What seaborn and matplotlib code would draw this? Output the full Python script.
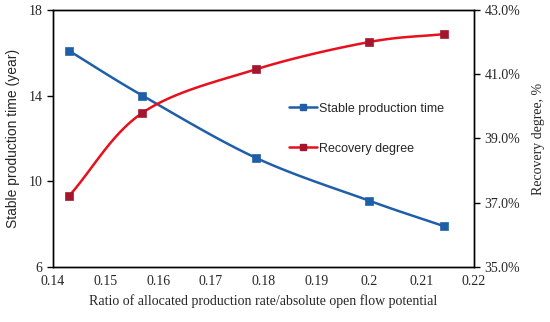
import numpy as np
import pandas as pd
import matplotlib
matplotlib.use("Agg")
import matplotlib.pyplot as plt
from matplotlib.lines import Line2D
import seaborn as sns

ratio = [0.143, 0.157, 0.1785, 0.200, 0.2143]
stable_time = [16.1, 14.0, 11.1, 9.1, 7.9]
recovery = [37.2, 39.8, 41.15, 42.0, 42.25]
x_ticks = [0.14, 0.15, 0.16, 0.17, 0.18, 0.19, 0.20, 0.21, 0.22]
x_tick_labels = ["0.14", "0.15", "0.16", "0.17", "0.18", "0.19", "0.2", "0.21", "0.22"]
left_ticks = [6, 10, 14, 18]
right_ticks = [35.0, 37.0, 39.0, 41.0, 43.0]

def smooth(xs, ys, n=30):
    # Catmull-Rom style smoothing (like Excel's smoothed line)
    xs = np.asarray(xs, float); ys = np.asarray(ys, float)
    px = np.concatenate([[2*xs[0]-xs[1]], xs, [2*xs[-1]-xs[-2]]])
    py = np.concatenate([[2*ys[0]-ys[1]], ys, [2*ys[-1]-ys[-2]]])
    ox, oy = [], []
    t = np.linspace(0, 1, n)
    for i in range(1, len(px)-2):
        p0, p1, p2, p3 = [np.array([px[j], py[j]]) for j in (i-1, i, i+1, i+2)]
        m1 = (p2 - p0) / 6.0
        m2 = (p3 - p1) / 6.0
        b0, b1, b2, b3 = p1, p1 + m1, p2 - m2, p2
        pts = ((1-t)**3)[:, None]*b0 + (3*(1-t)**2*t)[:, None]*b1 + (3*(1-t)*t**2)[:, None]*b2 + (t**3)[:, None]*b3
        ox.extend(pts[:, 0]); oy.extend(pts[:, 1])
    return np.array(ox), np.array(oy)

sns.set_style("white")
plt.rcParams['font.family'] = ['Liberation Serif', 'DejaVu Serif']

fig = plt.figure(figsize=(5.5, 3.22), dpi=100)
ax = fig.add_axes([0.0964, 0.171, 0.862 - 0.0964, 0.969 - 0.171])
ax2 = ax.twinx()

blue = "#1F5FA8"
red_line = "#E8101C"
red_mark = "#A3162E"

bx, by = smooth(ratio, stable_time)
sns.lineplot(x=bx, y=by, ax=ax, color=blue, lw=1.8, sort=False, estimator=None)
sns.scatterplot(x=ratio, y=stable_time, ax=ax, color=blue, marker="s", s=36, edgecolor=blue, zorder=5)

rx, ry = smooth(ratio, recovery)
sns.lineplot(x=rx, y=ry, ax=ax2, color=red_line, lw=1.8, sort=False, estimator=None)
sns.scatterplot(x=ratio, y=recovery, ax=ax2, color=red_mark, marker="s", s=36, edgecolor=red_mark, zorder=5)

ax.set_xlim(0.14, 0.22)
ax.set_ylim(6, 18)
ax2.set_ylim(35, 43)
ax.set_xticks(x_ticks)
ax.set_xticklabels(x_tick_labels, fontsize=10)
ax.set_yticks(left_ticks)
ax.set_yticklabels([str(v) for v in left_ticks], fontsize=10)
ax2.set_yticks(right_ticks)
ax2.set_yticklabels([f"{v:.1f}%" for v in right_ticks], fontsize=10)

ax.tick_params(axis='x', direction='in', length=4, width=1, color='black', pad=6)
ax.tick_params(axis='y', direction='out', length=4, width=1, color='black', left=True)
ax2.tick_params(axis='y', direction='out', length=4, width=1, color='black', right=True)

for a in (ax, ax2):
    for s in a.spines.values():
        s.set_color('black'); s.set_linewidth(1.0)

ax.set_xlabel("Ratio of allocated production rate/absolute open flow potential", fontsize=10, labelpad=4)
ax.set_ylabel("Stable production time (year)", fontsize=10, family=['Liberation Sans', 'DejaVu Sans'], labelpad=6)
ax2.set_ylabel("Recovery degree, %", fontsize=10, labelpad=8)

handles = [
    Line2D([], [], color=blue, lw=1.8, marker='s', markersize=5, markerfacecolor=blue, markeredgecolor=blue),
    Line2D([], [], color=red_line, lw=1.8, marker='s', markersize=5, markerfacecolor=red_mark, markeredgecolor=red_mark),
]
ax.legend(handles, ["Stable production time", "Recovery degree"], loc='upper left',
          bbox_to_anchor=(0.534, 0.683), frameon=False, handlelength=2.2, handletextpad=0.2,
          labelspacing=2.25, prop={'family': ['Liberation Sans', 'DejaVu Sans'], 'size': 9})

fig.savefig("out.png", dpi=100)
